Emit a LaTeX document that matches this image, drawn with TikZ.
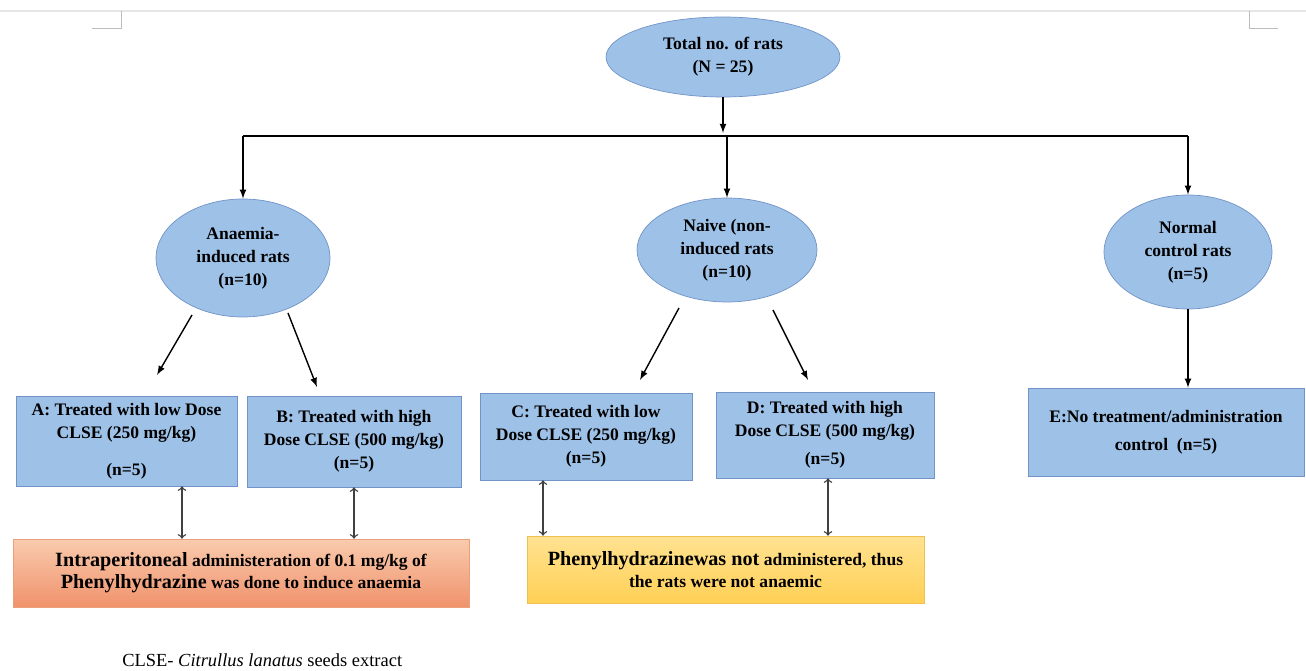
\documentclass[tikz,border=0pt]{standalone}
\usepackage{fontspec}
\setmainfont{Liberation Serif}[BoldFont={Liberation Serif Bold},ItalicFont={Liberation Serif Italic}]
\usetikzlibrary{shapes.geometric}

\definecolor{cellblue}{HTML}{9EC1E7}
\definecolor{edgeblue}{HTML}{7193C8}
\definecolor{saltop}{HTML}{F9CBAE}
\definecolor{salbot}{HTML}{F0926B}
\definecolor{saledge}{HTML}{E9A07B}
\definecolor{yeltop}{HTML}{FFE291}
\definecolor{yelbot}{HTML}{FFD055}
\definecolor{yeledge}{HTML}{F0C150}
\definecolor{pagegray}{HTML}{E6E6E6}
\definecolor{markgray}{HTML}{BDBDBD}

\begin{document}
\begin{tikzpicture}[x=0.02cm,y=-0.02cm,
	grp/.style={shape=ellipse,draw=edgeblue,fill=cellblue,inner sep=0pt,align=center,
		font=\bfseries\fontsize{10}{13}\selectfont},
	arm/.style={shape=rectangle,draw=edgeblue,fill=cellblue,inner sep=0pt,align=center,
		font=\bfseries\fontsize{10}{13}\selectfont},
	note/.style={shape=rectangle,inner sep=0pt,align=center,
		font=\bfseries\fontsize{10}{12.5}\selectfont},
	link/.style={-latex,black,thick},
	both/.style={<->,draw=black!75,thick}]
	\useasboundingbox (0,0) rectangle (1306,671);

	% page marks
	\draw[pagegray,line width=1.2pt] (0,11) -- (1306,11);
	\draw[markgray] (92,28) -- (121,28) -- (121,11);
	\draw[markgray] (1278,28) -- (1249,28) -- (1249,11);

	\node[grp,minimum width=4.68cm,minimum height=1.6cm] (total) at (723,57) {Total no. of rats\\(N = 25)};

	\node[grp,minimum width=3.48cm,minimum height=2.36cm] (an) at (243,258) {Anaemia-\\induced rats\\(n=10)};
	\node[grp,minimum width=3.6cm,minimum height=2.08cm] (nv) at (727,250) {Naive (non-\\induced rats\\(n=10)};
	\node[grp,minimum width=3.36cm,minimum height=2.28cm] (nc) at (1188,252) {Normal\\control rats\\(n=5)};

	\node[arm,minimum width=4.42cm,minimum height=1.8cm] (a) at (126.5,441) {A: Treated with low Dose\\CLSE (250 mg/kg)\\[8pt](n=5)};
	\node[arm,minimum width=4.28cm,minimum height=1.82cm] (b) at (354,441.5) {B: Treated with high\\Dose CLSE (500 mg/kg)\\(n=5)};
	\node[arm,minimum width=4.24cm,minimum height=1.74cm] (c) at (586,436.5) {C: Treated with low\\Dose CLSE (250 mg/kg)\\(n=5)};
	\node[arm,minimum width=4.36cm,minimum height=1.72cm] (d) at (825,435) {D: Treated with high\\Dose CLSE (500 mg/kg)\\[3pt](n=5)};
	\node[arm,minimum width=5.52cm,minimum height=1.76cm] (e) at (1166,432) {E:No treatment/administration\\[3pt]control\ \ (n=5)};

	\node[note,draw=saledge,top color=saltop,bottom color=salbot,minimum width=9.12cm,minimum height=1.36cm] (ip) at (241,573)
		{{\fontsize{11.5}{12.5}\selectfont Intraperitoneal} administeration of 0.1 mg/kg of\\{\fontsize{11.5}{12.5}\selectfont Phenylhydrazine} was done to induce anaemia};
	\node[note,draw=yeledge,top color=yeltop,bottom color=yelbot,minimum width=7.94cm,minimum height=1.34cm] (np) at (725.5,569.5)
		{{\fontsize{11.5}{12.5}\selectfont Phenylhydrazinewas not} administered, thus\\the rats were not anaemic};

	\node[anchor=base west,inner sep=0pt,font=\fontsize{10.5}{12}\selectfont] (key) at (122,667) {CLSE- \textit{Citrullus lanatus} seeds extract};

	% bus
	\coordinate (busL) at (243,136);
	\coordinate (busR) at (1188,136);
	\coordinate (busM) at (723,133);
	\draw[black,thick] (busL) -- (busR);
	\draw[link] (total) -- (busM);
	\draw[link] (busL) -- (an.north);
	\draw[link] (nv.north |- busL) -- (nv.north);
	\draw[link] (busR) -- (nc.north);

	% split arrows
	\coordinate (an1) at (192,315);
	\coordinate (an2) at (157,375);
	\coordinate (an3) at (288,313);
	\coordinate (an4) at (317,387);
	\coordinate (nv1) at (679,308);
	\coordinate (nv2) at (640,380);
	\coordinate (nv3) at (773,310);
	\coordinate (nv4) at (808,380);
	\draw[link] (an1) -- (an2);
	\draw[link] (an3) -- (an4);
	\draw[link] (nv1) -- (nv2);
	\draw[link] (nv3) -- (nv4);
	\draw[link] (nc.south) -- (nc.south |- e.north);

	% links to notes
	\draw[both] ([xshift=1.11cm]a.south) -- ([xshift=1.11cm]a.south |- ip.north);
	\draw[both] (b.south) -- (b.south |- ip.north);
	\draw[both] ([xshift=-0.86cm]c.south) -- ([xshift=-0.86cm]c.south |- np.north);
	\draw[both] ([xshift=0.06cm]d.south) -- ([xshift=0.06cm]d.south |- np.north);
\end{tikzpicture}
\end{document}
